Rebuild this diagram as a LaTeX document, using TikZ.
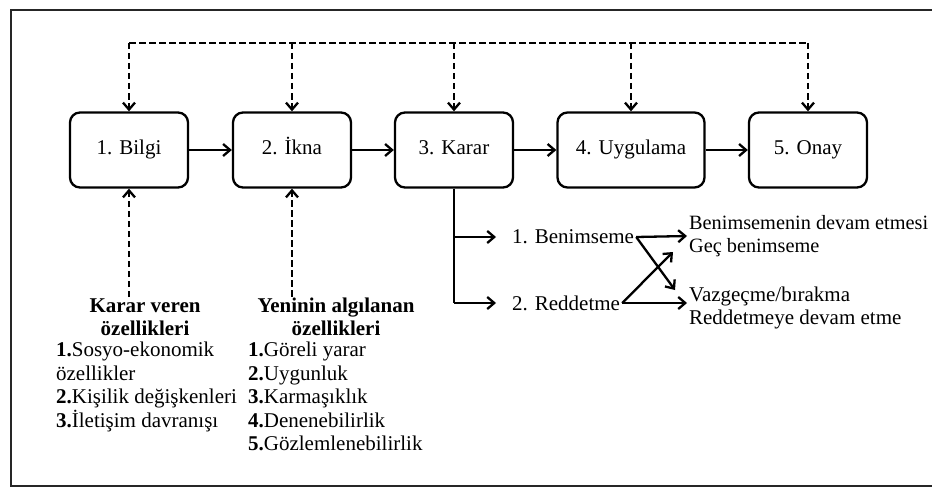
\documentclass[tikz,border=0pt]{standalone}
\usepackage{fontspec}
\setmainfont{Liberation Serif}
\usetikzlibrary{arrows.meta,positioning}
\tikzset{
  stage/.style={draw,line width=2.3pt,rounded corners=10pt,minimum width=118pt,minimum height=75pt,text height=14pt,text depth=5pt},
  fb/.style={dash pattern=on 6.5pt off 3.5pt},
  lbl/.style={anchor=west,inner sep=1pt},
  head/.style={align=center,inner sep=0pt,font=\fontsize{21}{23.5}\selectfont\bfseries},
  lst/.style={anchor=north west,align=left,inner sep=0pt},
}
\begin{document}
\begin{tikzpicture}[x=1pt,y=-1pt,line width=2.3pt,>={Straight Barb[length=7pt,width=12pt]},font=\fontsize{21}{23.5}\selectfont]
	\useasboundingbox (0,0) rectangle (932,487);
	\draw[line width=2pt,black!85] (11,10) rectangle (950,486);
	% stages
	\node[stage] (s1) at (129,150) {1. Bilgi};
	\node[stage] (s2) at (292,150) {2. İkna};
	\node[stage] (s3) at (454,150) {3. Karar};
	\node[stage,minimum width=147pt] (s4) at (631,150) {4. Uygulama};
	\node[stage] (s5) at (808,150) {5. Onay};
	\foreach \i/\j in {1/2,2/3,3/4,4/5} \draw[->] (s\i.east)--(s\j.west);
	% feedback line
	\coordinate (top) at (0,43);
	\draw[fb] (s1 |- top)--(s5 |- top);
	\foreach \i in {1,...,5} \draw[fb,->] (s\i |- top)--(s\i.north);
	% decision branches
	\node[lbl] (ben) at (510,237) {1. Benimseme};
	\node[lbl] (red) at (510,303) {2. Reddetme};
	\draw (s3.south)--(s3.south |- red.west);
	\draw[->,shorten >=14pt] (s3.south |- ben.west)--(ben.west);
	\draw[->,shorten >=14pt] (s3.south |- red.west)--(red.west);
	\node[lbl,align=left,font=\fontsize{20.3}{23}\selectfont] (acc) at (687,236) {Benimsemenin devam etmesi\\Geç benimseme};
	\node[lbl,align=left] (rej) at (687,308) {Vazgeçme/bırakma\\Reddetmeye devam etme};
	\coordinate (e1) at (675,290);
	\coordinate (e2) at (673,252);
	\draw[->] (ben.east)--(acc.west);
	\draw[->] (ben.east)--(e1);
	\draw[->] (red.east)--(e2);
	\draw[->] (red.east)--(red.east -| rej.west);
	% characteristics
	\node[head] (h1) at (145,317) {Karar veren\\özellikleri};
	\node[head] (h2) at (336,317) {Yeninin algılanan\\özellikleri};
	\node[lst] (l1) at (55,341) {\textbf{1.}Sosyo-ekonomik\\özellikler\\\textbf{2.}Kişilik değişkenleri\\\textbf{3.}İletişim davranışı};
	\node[lst] (l2) at (247,341) {\textbf{1.}Göreli yarar\\\textbf{2.}Uygunluk\\\textbf{3.}Karmaşıklık\\\textbf{4.}Denenebilirlik\\\textbf{5.}Gözlemlenebilirlik};
	\draw[fb,->] (s1.south |- h1.north)--(s1.south);
	\draw[fb,->] (s2.south |- h2.north)--(s2.south);
\end{tikzpicture}
\end{document}
